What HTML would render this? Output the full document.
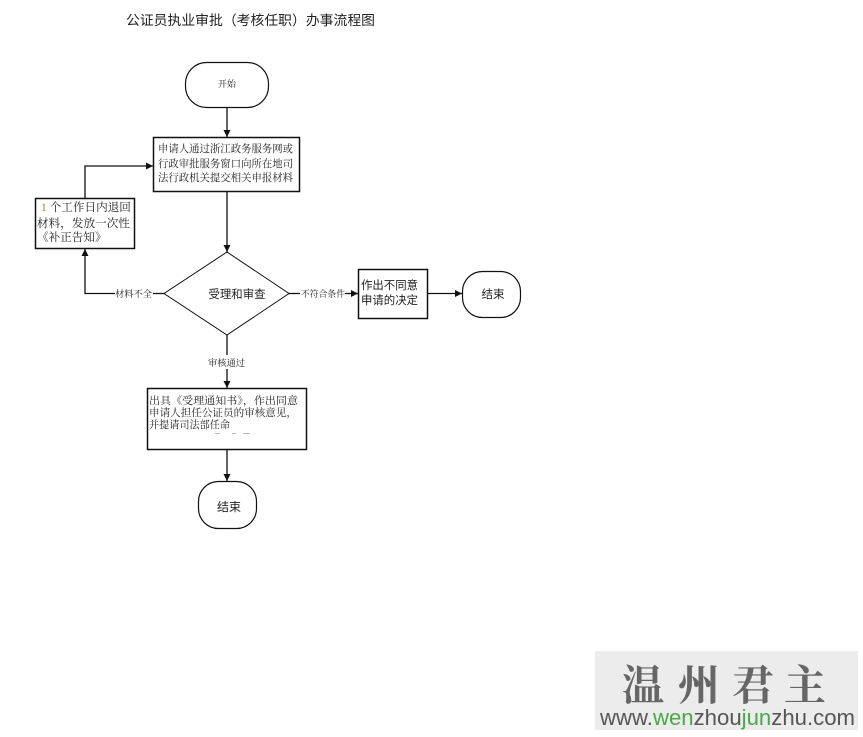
<!DOCTYPE html>
<html><head><meta charset="utf-8"><style>
html,body{margin:0;padding:0;background:#fff;}
body{width:863px;height:737px;overflow:hidden;position:relative;}
svg{position:absolute;left:0;top:0;}
.wm{position:absolute;left:595px;top:651px;width:263px;height:79px;background:#ececec;}
</style></head><body>
<svg width="863" height="737" viewBox="0 0 863 737" xmlns="http://www.w3.org/2000/svg">
<defs>
<marker id="ar" markerWidth="8" markerHeight="8" refX="7" refY="4" orient="auto" markerUnits="userSpaceOnUse">
<path d="M0,0.5 L7,4 L0,7.5 Z" fill="#111"/>
</marker>
</defs>
<g font-family="'Liberation Sans','Noto Sans CJK SC',sans-serif" fill="#222">
<text x="126" y="25" font-size="13.8" textLength="249" lengthAdjust="spacingAndGlyphs">公证员执业审批（考核任职）办事流程图</text>
</g>
<g fill="none" stroke="#111" stroke-width="1.2">
<rect x="185.5" y="62.5" width="83" height="45" rx="21" ry="21"/>
<rect x="153.5" y="137.5" width="146" height="54" stroke-width="1.5"/>
<rect x="35.5" y="198.5" width="99" height="50" stroke-width="1.5"/>
<polygon points="227,252 289,293.5 227,335 164,293.5" stroke-width="1"/>
<rect x="358.5" y="269.5" width="69" height="49" stroke-width="1.5"/>
<rect x="462.5" y="271.5" width="58" height="46" rx="20" ry="20"/>
<rect x="147.5" y="388.5" width="159" height="61" stroke-width="1.5"/>
<rect x="198.5" y="481.5" width="58" height="47" rx="20" ry="20"/>
</g>
<g fill="none" stroke="#111" stroke-width="1.3">
<line x1="227" y1="108" x2="227" y2="137" marker-end="url(#ar)"/>
<line x1="227" y1="192" x2="227" y2="252" marker-end="url(#ar)"/>
<line x1="164" y1="293.5" x2="153" y2="293.5"/>
<polyline points="115,293.5 85,293.5 85,249" marker-end="url(#ar)"/>
<polyline points="85,198 85,166 153,166" marker-end="url(#ar)"/>
<line x1="289" y1="293.5" x2="300" y2="293.5"/>
<line x1="345" y1="293.5" x2="358" y2="293.5" marker-end="url(#ar)"/>
<line x1="427" y1="293.5" x2="462" y2="293.5" marker-end="url(#ar)"/>
<line x1="227" y1="335" x2="227" y2="355"/>
<line x1="227" y1="369" x2="227" y2="388" marker-end="url(#ar)"/>
<line x1="227" y1="450" x2="227" y2="481" marker-end="url(#ar)"/>
</g>
<g font-family="'Liberation Serif','Noto Serif CJK SC',serif" fill="#222">
<text x="227" y="87" font-size="9" text-anchor="middle">开始</text>
<text x="158" y="152" font-size="10.5" textLength="135" lengthAdjust="spacingAndGlyphs">申请人通过浙江政务服务网或</text>
<text x="158" y="167" font-size="10.5" textLength="135" lengthAdjust="spacingAndGlyphs">行政审批服务窗口向所在地司</text>
<text x="158" y="181" font-size="10.5" textLength="135" lengthAdjust="spacingAndGlyphs">法行政机关提交相关申报材料</text>
<text x="41" y="211" font-size="11.6"><tspan fill="#c77a1a">1</tspan> 个工作日内退回</text>
<text x="37" y="227" font-size="11.6" textLength="93" lengthAdjust="spacingAndGlyphs">材料，发放一次性</text>
<text x="37" y="241" font-size="11.6">《补正告知》</text>
<text x="115" y="297" font-size="9" textLength="37" lengthAdjust="spacingAndGlyphs">材料不全</text>
<text x="301" y="297" font-size="9" textLength="44" lengthAdjust="spacingAndGlyphs">不符合条件</text>
<text x="208" y="366" font-size="9" textLength="37" lengthAdjust="spacingAndGlyphs">审核通过</text>
<text x="149" y="404" font-size="10.5" textLength="149" lengthAdjust="spacingAndGlyphs">出具《受理通知书》，作出同意</text>
<text x="149" y="416" font-size="10.5" textLength="148" lengthAdjust="spacingAndGlyphs">申请人担任公证员的审核意见，</text>
<text x="149" y="428" font-size="10.5" textLength="81" lengthAdjust="spacingAndGlyphs">并提请司法部任命</text>
</g>
<g stroke="#bbb" stroke-width="1">
<line x1="215" y1="433.5" x2="220" y2="433.5"/>
<line x1="232" y1="433.5" x2="236" y2="433.5"/>
<line x1="243" y1="433.5" x2="250" y2="433.5"/>
</g>
<g font-family="'Liberation Sans','Noto Sans CJK SC',sans-serif" fill="#222">
<text x="237" y="298" font-size="11.5" text-anchor="middle" textLength="57" lengthAdjust="spacingAndGlyphs">受理和审查</text>
<text x="361" y="289" font-size="11.5" textLength="57" lengthAdjust="spacingAndGlyphs">作出不同意</text>
<text x="361" y="304" font-size="11.5" textLength="57" lengthAdjust="spacingAndGlyphs">申请的决定</text>
<text x="493" y="298" font-size="11.5" text-anchor="middle">结束</text>
<text x="229" y="511" font-size="12" text-anchor="middle">结束</text>
</g>
</svg>
<div class="wm"></div>
<svg width="863" height="737" viewBox="0 0 863 737" xmlns="http://www.w3.org/2000/svg">
<g font-family="'Noto Serif CJK SC','WenQuanYi Zen Hei',serif" font-weight="bold" fill="#666" font-size="42">
<text x="622" y="700">温</text>
<text x="678" y="700">州</text>
<text x="732" y="700">君</text>
<text x="784" y="700">主</text>
</g>
<text x="600" y="725" font-family="'Liberation Sans',sans-serif" font-size="22" fill="#555" textLength="255" lengthAdjust="spacingAndGlyphs">www.<tspan fill="#4aa84a">wen</tspan>zhou<tspan fill="#4aa84a">jun</tspan>zhu.com</text>
</svg>
</body></html>
